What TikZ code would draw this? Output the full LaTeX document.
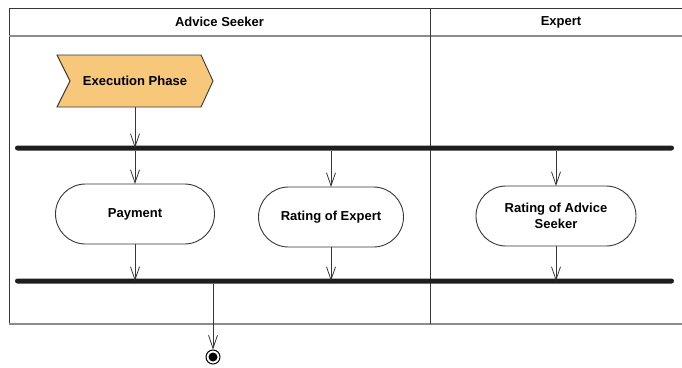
\documentclass[tikz,border=0pt]{standalone}
\usepackage{fontspec}
\setmainfont{Liberation Sans}
\usetikzlibrary{arrows.meta,shapes.misc,backgrounds}
\definecolor{phase}{RGB}{247,199,122}
\definecolor{lineg}{RGB}{55,55,55}
\definecolor{barc}{RGB}{30,30,30}
\definecolor{sepg}{RGB}{140,140,140}
\begin{document}
\begin{tikzpicture}[x=1pt,y=-1pt,
  txt/.style={font=\fontsize{13}{16}\selectfont\bfseries, text=black},
  act/.style={rounded rectangle, draw=lineg, line width=0.9pt, fill=white,
    minimum height=60pt, inner sep=2pt, outer sep=0pt, txt, align=center},
  barnode/.style={fill=barc, draw=none, minimum width=659pt, minimum height=5pt,
    inner sep=0pt, outer sep=0pt, rounded corners=2.5pt},
  flow/.style={draw=lineg, line width=0.8pt,
    -{Straight Barb[length=13pt,width=9pt,line width=0.8pt]}},
  framel/.style={draw=lineg, line width=1pt},
  sepl/.style={draw=sepg, line width=1.2pt}]
\useasboundingbox (0,0) rectangle (682,367);
% swimlane frame
\draw[framel] (682,8) -- (9,8) -- (9,324);
\draw[sepl] (9,324) -- (682,324);
\draw[sepl] (9,36) -- (682,36);
\draw[framel] (430,8) -- (430,324);
\node[txt] (h1) at (219.5,22) {Advice Seeker};
\node[txt] (h2) at (561,22) {Expert};
% execution phase
\node[txt, minimum width=156pt, minimum height=52pt, inner sep=0pt, outer sep=0pt] (ep) at (135,81) {Execution Phase};
\begin{scope}[on background layer]
\draw[fill=phase, draw=lineg, line width=0.9pt]
  (ep.north west) -- ([xshift=-12pt]ep.north east) -- (ep.east)
  -- ([xshift=-12pt]ep.south east) -- (ep.south west)
  -- ([xshift=13pt]ep.west) -- cycle;
\end{scope}
% bars
\node[barnode] (fork) at (344.5,148) {};
\node[barnode] (join) at (344.5,281) {};
% activities
\node[act, minimum width=163pt] (pay) at (135,214) {Payment};
\node[act, minimum width=149pt] (roe) at (331,217) {Rating of Expert};
\node[act, minimum width=164pt] (ros) at (556,216) {Rating of Advice\\Seeker};
% final node
\node[circle, draw=black, line width=1pt, fill=white, minimum size=14pt, inner sep=0pt] (final) at (213,357) {};
\fill[black] (final.center) circle (4.5pt);
% flows
\draw[flow] (ep.south) -- (ep.south |- fork.center);
\draw[flow] (pay.north |- fork.south) -- (pay.north);
\draw[flow] (roe.north |- fork.south) -- (roe.north);
\draw[flow] (ros.north |- fork.south) -- (ros.north);
\draw[flow] (pay.south) -- (pay.south |- join.center);
\draw[flow] (roe.south) -- (roe.south |- join.center);
\draw[flow] (ros.south) -- (ros.south |- join.center);
\draw[flow] (final.north |- join.south) -- (final.north);
\end{tikzpicture}
\end{document}
